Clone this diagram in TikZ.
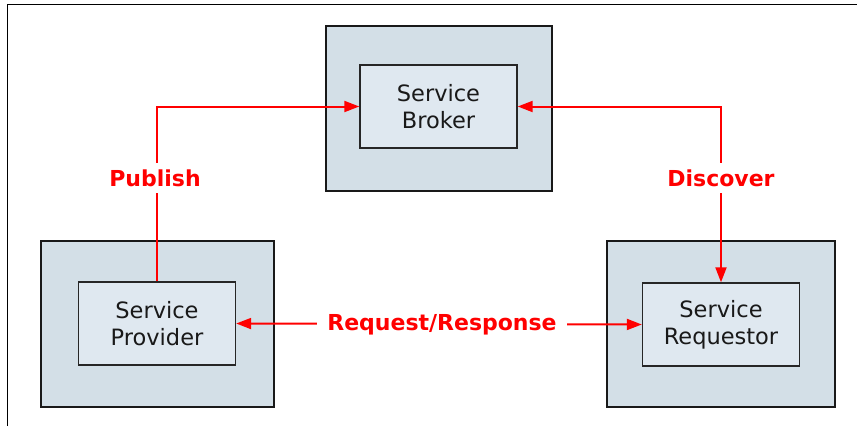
\documentclass[tikz,border=0pt]{standalone}
\usepackage{fontspec}
\setmainfont{DejaVu Sans}
\usetikzlibrary{arrows.meta}
\definecolor{outerfill}{RGB}{211,223,231}
\definecolor{innerfill}{RGB}{223,232,240}
\definecolor{lblred}{RGB}{255,0,0}
\begin{document}
\begin{tikzpicture}[x=1pt,y=-1pt,
  outerbox/.style={draw=black!90,line width=2pt,fill=outerfill,inner sep=0pt},
  innerbox/.style={draw=black!85,line width=1.4pt,fill=innerfill,inner sep=0pt,
    minimum width=157pt,minimum height=83pt,align=center,
    font=\fontsize{22.5}{27}\selectfont,text=black!90},
  conn/.style={draw=lblred,line width=2pt},
  tip/.style={-{Triangle[length=15pt,width=11pt]}},
  lbl/.style={fill=white,text=lblred,inner sep=6pt,font=\fontsize{22}{26}\selectfont\bfseries}]
\useasboundingbox (0,0) rectangle (857,426);
\draw[line width=1pt] (7.5,426) -- (7.5,4) -- (857,4);
% outer boxes
\node[outerbox,minimum width=226pt,minimum height=165pt] (brokerOuter) at (439,108.5) {};
\node[outerbox,minimum width=233pt,minimum height=166pt] (provOuter) at (157,324) {};
\node[outerbox,minimum width=228pt,minimum height=166pt] (reqOuter) at (721,324) {};
% inner boxes
\node[innerbox] (broker) at (438.5,106.5) {Service\\Broker};
\node[innerbox] (prov) at (157,323.5) {Service\\Provider};
\node[innerbox] (req) at (721,324.5) {Service\\Requestor};
% connectors
\draw[conn,tip] (prov.north) |- (broker.west);
\draw[conn,{Triangle[length=15pt,width=11pt]}-{Triangle[length=15pt,width=11pt]}] (broker.east) -| (req.north);
\draw[conn,{Triangle[length=15pt,width=11pt]}-{Triangle[length=15pt,width=11pt]}] (prov.east) -- (req.west);
% labels
\node[lbl] (publish) at (155,178) {Publish};
\node[lbl] (discover) at (721,178) {Discover};
\node[lbl,inner sep=10pt] (reqresp) at (442,325) {Request/Response};
\end{tikzpicture}
\end{document}
